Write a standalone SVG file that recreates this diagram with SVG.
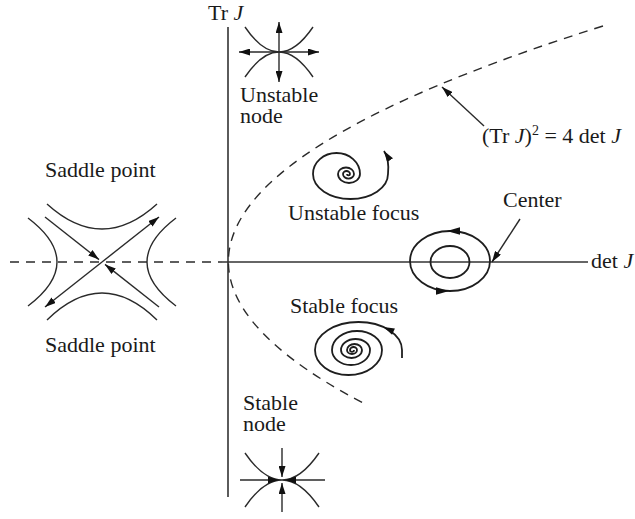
<svg xmlns="http://www.w3.org/2000/svg" width="635" height="519" viewBox="0 0 635 519">
<style>
.t{font-family:"Liberation Serif","Times New Roman",serif;font-size:22px;fill:#1a1a1a}
.ln{fill:none;stroke:#2a2a2a;stroke-width:1.4}
.ax{fill:none;stroke:#333;stroke-width:1.6}
.dash{fill:none;stroke:#2a2a2a;stroke-width:1.4;stroke-dasharray:9 7}
.sp{fill:none;stroke:#1e1e1e;stroke-width:1.8}
.ah{fill:#111}
</style>
<defs>
<marker id="arr" viewBox="0 0 11 7" refX="11" refY="3.5" markerWidth="11" markerHeight="7" markerUnits="userSpaceOnUse" orient="auto">
<path d="M0,0 L11,3.5 L0,7 z" fill="#111"/>
</marker>
</defs>
<rect width="635" height="519" fill="#fff"/>

<g id="axes">
<line class="ax" x1="228" y1="27" x2="228" y2="497"/>
<line class="ax" x1="222" y1="262" x2="588" y2="262"/>
<line class="dash" x1="10" y1="262" x2="222" y2="262"/>
<text class="t" x="208" y="20">Tr <tspan font-style="italic">J</tspan></text>
<text class="t" x="591" y="268">det <tspan font-style="italic">J</tspan></text>
</g>

<g id="parabola">
<path class="dash" d="M603,26 Q0.5,215.5 367,405"/>
<text class="t" x="482" y="143">(Tr <tspan font-style="italic">J</tspan>)<tspan dy="-8" font-size="14">2</tspan><tspan dy="8"> = 4 det </tspan><tspan font-style="italic">J</tspan></text>
</g>

<g id="unstable-node">
<path class="ln" d="M245,27 Q279,77 313,27 M245,77 Q279,27 313,77"/>
<line class="ln" x1="279" y1="52" x2="239" y2="52" marker-end="url(#arr)"/>
<line class="ln" x1="279" y1="52" x2="319" y2="52" marker-end="url(#arr)"/>
<line class="ln" x1="279" y1="52" x2="279" y2="22" marker-end="url(#arr)"/>
<line class="ln" x1="279" y1="52" x2="279" y2="82" marker-end="url(#arr)"/>
<text class="t"><tspan x="240" y="102">Unstable</tspan><tspan x="240" y="123">node</tspan></text>
</g>

<g id="saddle-upper-label">
<text class="t" x="45" y="177">Saddle point</text>
</g>

<g id="saddle">
<path class="ln" d="M47,204 Q102,254 157,204 M47,320 Q102,266 157,320 M28,218 Q86,262 28,306 M176,218 Q118,262 176,306"/>
<line class="ln" x1="102" y1="262" x2="159" y2="217" marker-end="url(#arr)"/>
<line class="ln" x1="102" y1="262" x2="45" y2="307" marker-end="url(#arr)"/>
<line class="ln" x1="45" y1="217" x2="99" y2="259.6" marker-end="url(#arr)"/>
<line class="ln" x1="159" y1="307" x2="105" y2="264.4" marker-end="url(#arr)"/>
</g>

<g id="saddle-lower-label">
<text class="t" x="45" y="352">Saddle point</text>
</g>

<g id="unstable-focus">
<path class="sp" marker-end="url(#arr)" d="M347,174 A1.5,1.3 0 0 0 350,174 A3.5,3 0 0 0 343,174 A5.5,4.6 0 0 0 354,174 A8,6.5 0 0 0 338,174 A11,9 0 0 0 360,174 A23.5,21 0 0 0 313,174 A37.5,25 0 0 0 388,174 C389,164 388,157 384,151"/>
<text class="t" x="288" y="220">Unstable focus</text>
</g>

<g id="center">
<ellipse class="sp" cx="450" cy="261" rx="40" ry="30"/>
<ellipse class="sp" cx="450" cy="262" rx="19.5" ry="16"/>
<polygon class="ah" points="447,231 460,227.3 460,234.7"/>
<polygon class="ah" points="449,291 436,287.3 436,294.7"/>
<text class="t" x="503" y="207">Center</text>
</g>

<g id="stable-focus">
<path class="sp" d="M402,358 L402,350 A43.5,28 0 0 0 315,350 A33.5,25 0 0 0 382,350 A25,19 0 0 0 332,350 A19,15 0 0 0 370,350 A14.5,11 0 0 0 341,350 A10.5,8 0 0 0 362,350 A7.5,6 0 0 0 347,350 A5,4 0 0 0 357,350 A3.5,3 0 0 0 350,350 A2,1.8 0 0 0 354,350"/>
<polygon class="ah" points="383.5,327.1 394.9,328.4 392.1,334.8"/>
<text class="t" x="290" y="313">Stable focus</text>
</g>

<g id="stable-node">
<path class="ln" d="M245,453 Q282,507 319,453 M245,507 Q282,453 319,507"/>
<line class="ln" x1="240" y1="480" x2="279" y2="480" marker-end="url(#arr)"/>
<line class="ln" x1="325" y1="480" x2="285" y2="480" marker-end="url(#arr)"/>
<line class="ln" x1="282" y1="448" x2="282" y2="477" marker-end="url(#arr)"/>
<line class="ln" x1="282" y1="512" x2="282" y2="483" marker-end="url(#arr)"/>
<text class="t"><tspan x="243" y="410">Stable</tspan><tspan x="243" y="431">node</tspan></text>
</g>

<g id="connectors">
<line class="ln" x1="484" y1="126" x2="442" y2="87" marker-end="url(#arr)"/>
<line class="ln" x1="520" y1="219" x2="492" y2="262" marker-end="url(#arr)"/>
</g>
</svg>
